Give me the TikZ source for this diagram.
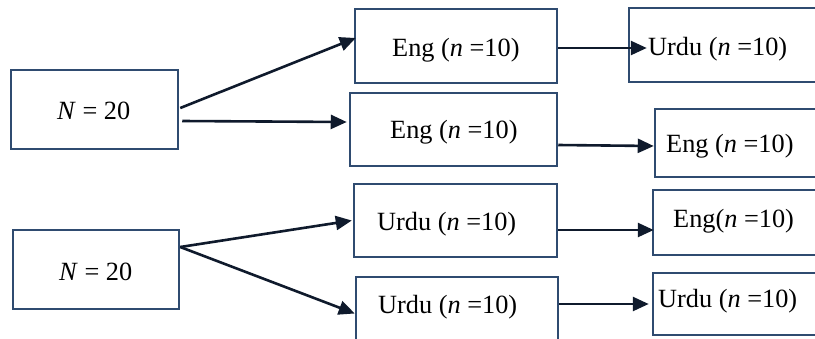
\documentclass[tikz,border=0pt]{standalone}
\usepackage{fontspec}
\setmainfont{Liberation Serif}
\usetikzlibrary{arrows.meta,calc}
\definecolor{boxc}{HTML}{2F4B70}
\definecolor{arrc}{HTML}{0F1A2C}
\begin{document}
\begin{tikzpicture}[x=1pt,y=-1pt,
  box/.style={draw=boxc, line width=2.5pt, rectangle, inner sep=0pt},
  txt/.style={font=\fontsize{26.3}{30}\selectfont, inner sep=0pt, anchor=base west, text=black},
  arr/.style={draw=arrc, line width=2.6pt, -{Triangle[length=16pt,width=14pt]}}]
\useasboundingbox (0,0) rectangle (815,338);
\fill[white] (0,0) rectangle (815,338);
\clip (0,0) rectangle (815,338);
% boxes
\node[box, minimum width=167pt, minimum height=79pt] (A) at (94.5,109.5) {};
\node[box, minimum width=202pt, minimum height=74pt] (B) at (456,46) {};
\node[box, minimum width=207pt, minimum height=73pt] (C) at (453.5,129.5) {};
\node[box, minimum width=200pt, minimum height=74pt] (D) at (729,45) {};
\node[box, minimum width=200pt, minimum height=68pt] (E) at (755,143) {};
\node[box, minimum width=166pt, minimum height=79pt] (F) at (96,269.5) {};
\node[box, minimum width=203pt, minimum height=73pt] (G) at (455.5,220.5) {};
\node[box, minimum width=202pt, minimum height=73pt] (H) at (457,313.5) {};
\node[box, minimum width=200pt, minimum height=65pt] (I) at (753,222.5) {};
\node[box, minimum width=200pt, minimum height=62pt] (J) at (753,304) {};
% texts
\node[txt] (at) at (57,119) {\textit{N} = 20};
\node[txt] (bt) at (392,56) {Eng (\textit{n} =10)};
\node[txt] (ct) at (390,138) {Eng (\textit{n} =10)};
\node[txt] (dt) at (648,55) {Urdu (\textit{n} =10)};
\node[txt] (et) at (666,152) {Eng (\textit{n} =10)};
\node[txt] (ft) at (59,280) {\textit{N} = 20};
\node[txt] (gt) at (377,230) {Urdu (\textit{n} =10)};
\node[txt] (ht) at (378,313) {Urdu (\textit{n} =10)};
\node[txt] (it) at (673,227) {Eng(\textit{n} =10)};
\node[txt] (jt) at (658,307) {Urdu (\textit{n} =10)};
% arrows
\draw[arr] ($(A.east)+(1,-1.5)$) -- ($(B.west)+(2,-8)$);
\draw[arr] ($(A.east)+(3,11.5)$) -- ($(C.west)+(-2,-7.5)$);
\draw[arr] ($(B.east)+(0,2)$) -- ($(D.west)+(19,3)$);
\draw[arr] ($(C.east)+(0,15.5)$) -- ($(E.west)+(0,3)$);
\draw[arr] ($(F.east)+(0,-22.5)$) -- ($(G.west)+(-1,0)$);
\draw[arr] ($(F.east)+(0,-22.5)$) -- (H.west);
\draw[arr] ($(G.east)+(0,9.5)$) -- ($(I.west)+(2,7.5)$);
\draw[arr] ($(H.east)+(0,-9.5)$) -- ($(J.west)+(-3,0)$);
\end{tikzpicture}
\end{document}
